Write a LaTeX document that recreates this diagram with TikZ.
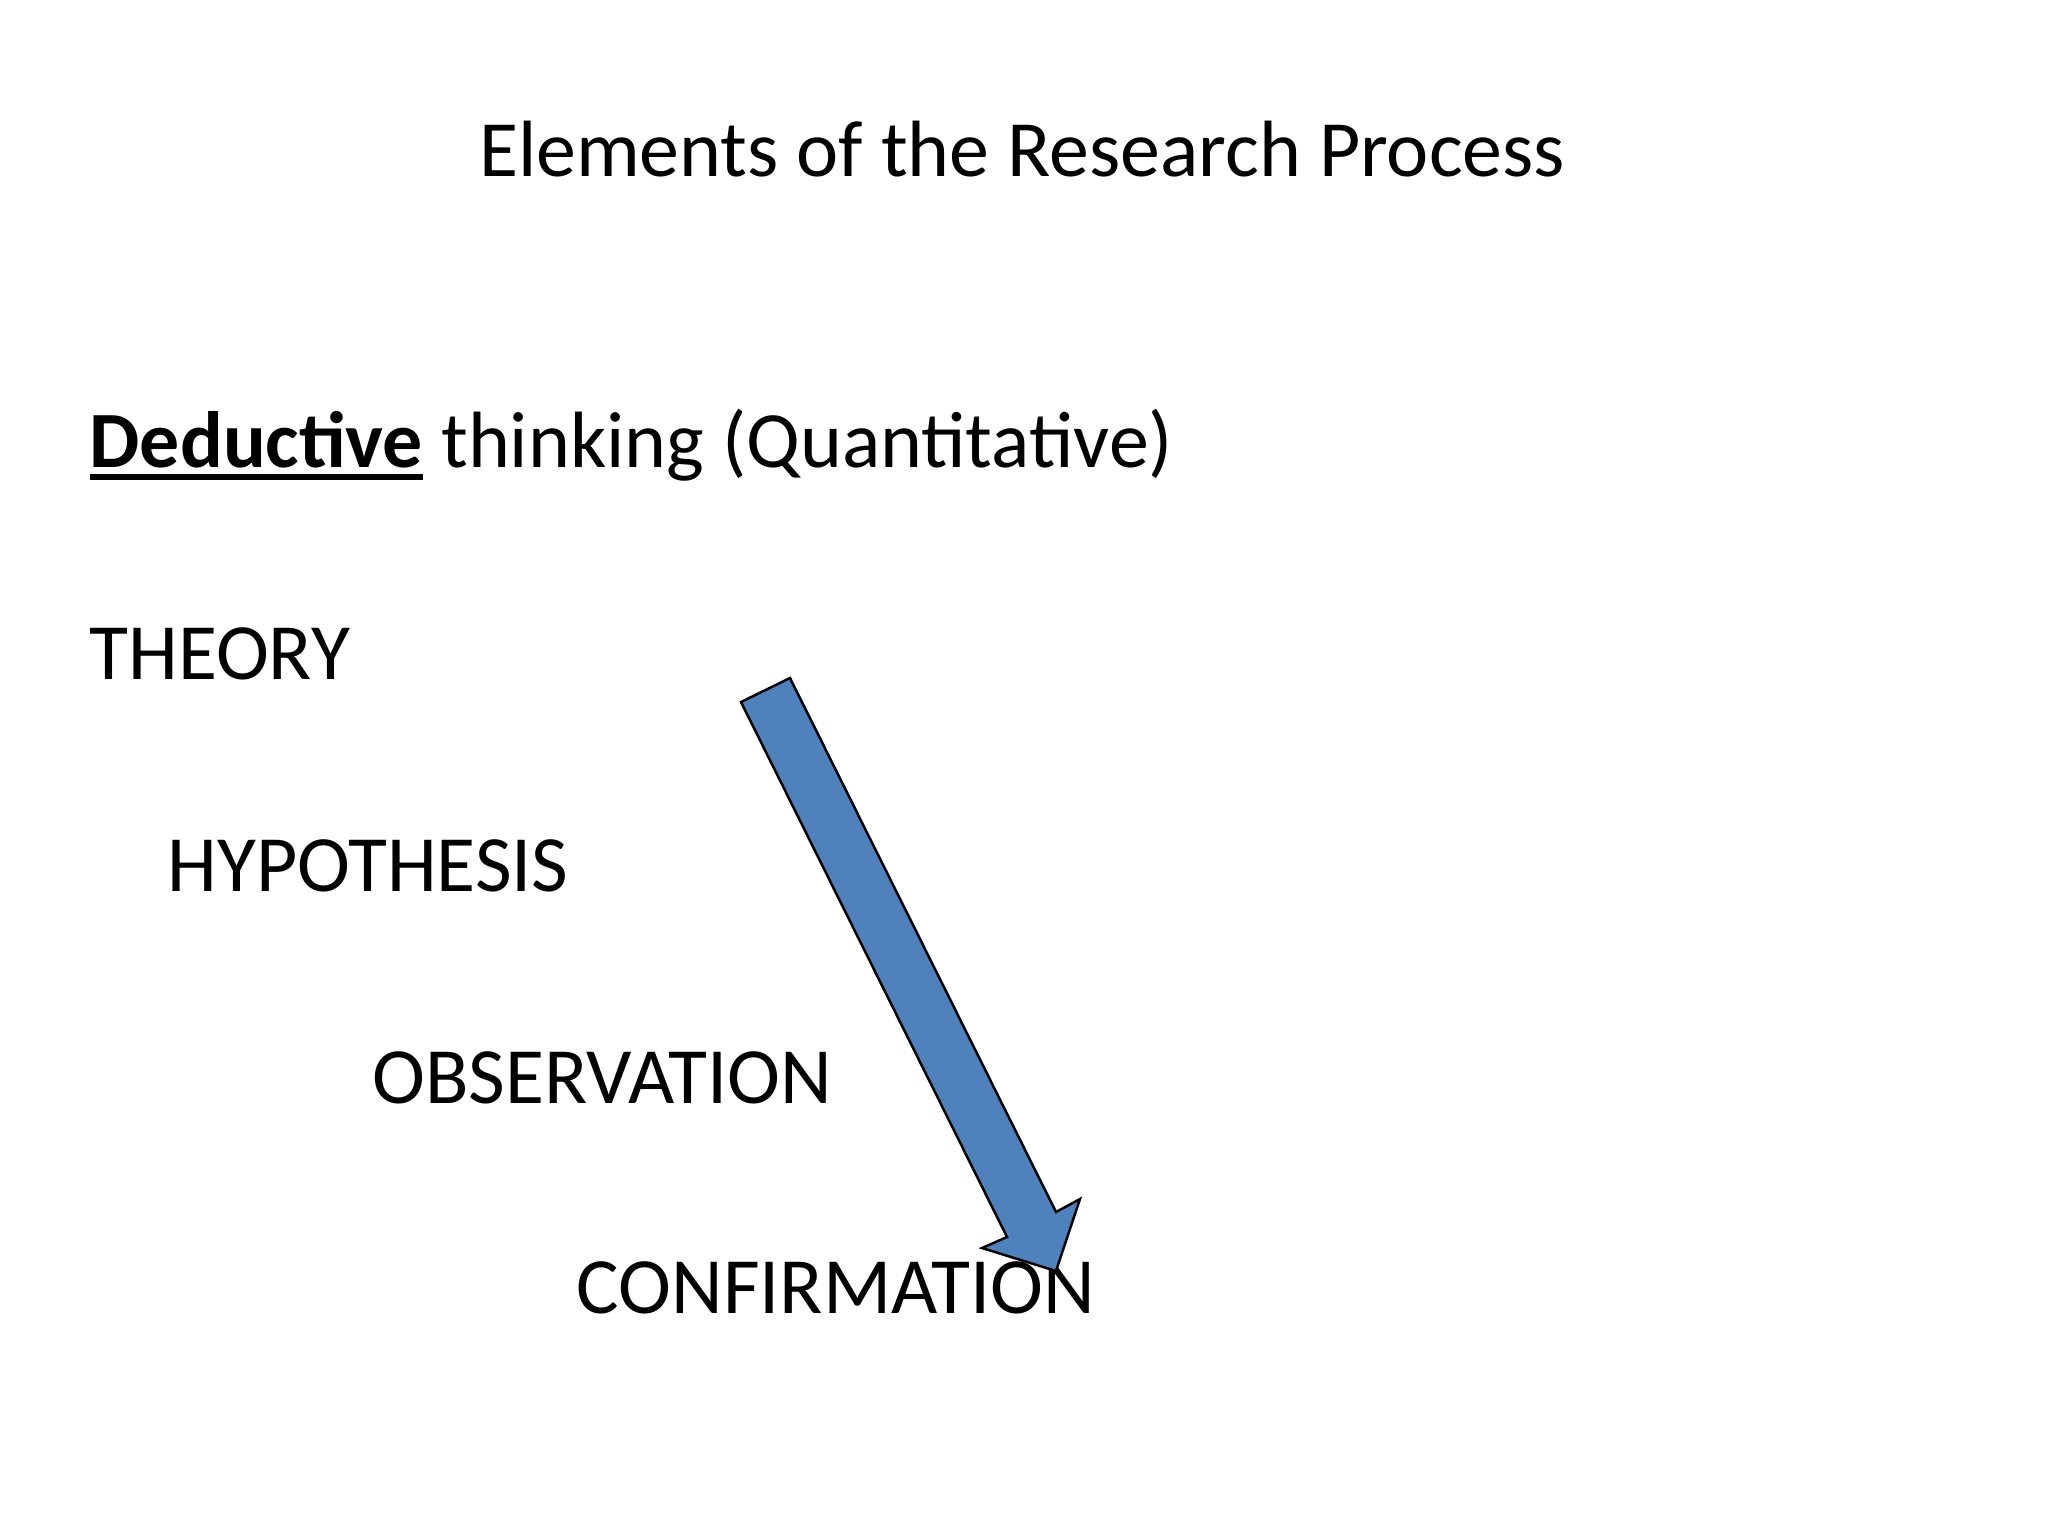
\documentclass[tikz,border=0pt]{standalone}
\usepackage{fontspec}
\setmainfont{Carlito}
\newcommand\ulword[1]{\setbox0\hbox{#1}\rlap{\rule[-3.7pt]{\wd0}{1.7pt}}\box0\relax}

\begin{document}
\begin{tikzpicture}[x=0.01cm,y=-0.01cm,
    stage/.style={anchor=base west,inner sep=0pt,font=\fontsize{22.7}{27}\selectfont}]
  \useasboundingbox[fill=white] (0,0) rectangle (2048,1536);

  \node[stage,anchor=base] (title) at (1022,176) {Elements of the Research Process};
  \node[stage] (deductive) at (89,467) {\ulword{\textbf{Deductive}} thinking (Quantitative)};

  \node[stage] (theory) at (89,679) {THEORY};
  \node[stage] (hypothesis) at (167,891) {HYPOTHESIS};
  \node[stage] (observation) at (372,1103) {OBSERVATION};
  \node[stage] (confirmation) at (576,1313) {CONFIRMATION};

  \coordinate (tail left) at (741,702);
  \coordinate (tail right) at (790,678);
  \coordinate (tip) at (1056,1271);

  \draw[fill={rgb,255:red,79;green,129;blue,189},line width=0.7pt,line join=miter]
    (tail left) -- (tail right) -- (1056,1212) -- (1080,1199) -- (tip)
    -- (982,1248) -- (1007,1237) -- cycle;
\end{tikzpicture}
\end{document}
